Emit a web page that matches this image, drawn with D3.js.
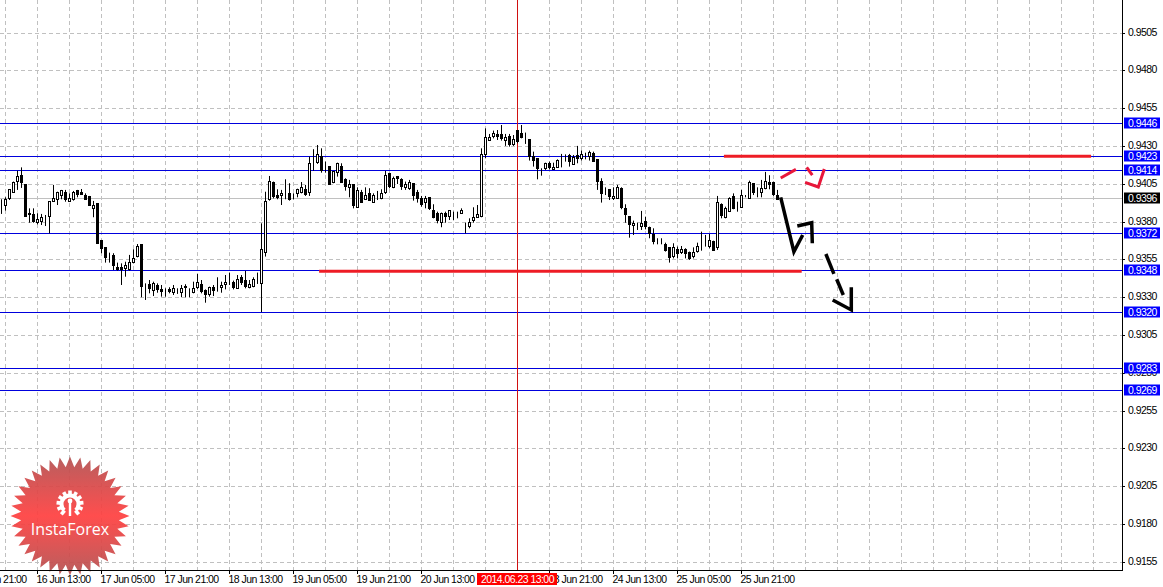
<!DOCTYPE html>
<html><head><meta charset="utf-8">
<script src="https://cdnjs.cloudflare.com/ajax/libs/d3/7.8.5/d3.min.js"></script>
<style>html,body{margin:0;padding:0;background:#fff}svg{display:block}text{font-family:"Liberation Sans",sans-serif;letter-spacing:-0.55px}</style>
</head><body><svg id="c" width="1163" height="587"></svg>
<script>
// OHLC values in pips (price x 10000), bar by bar (one bar per hour)
const opens=[9389.6,9390.9,9395.3,9399.7,9407,9411,9405,9385.8,9385.2,9379.6,9380.5,9381.8,9383.2,9393.5,9394.9,9397.5,9399.7,9393.5,9395.1,9401,9399.9,9397.7,9397.1,9389.6,9392,9367.5,9363.5,9356.3,9357.6,9350.1,9350.3,9349.7,9349,9353.4,9357.2,9365.5,9337.1,9338.4,9334.7,9338.2,9335.1,9334.7,9335.1,9333.8,9335.1,9333.8,9337.1,9335.1,9333.8,9336.6,9338.9,9334.9,9332.2,9336.9,9336,9336.6,9338.9,9339.1,9340,9336.2,9343.5,9341.7,9336.6,9337.7,9341.5,9338.9,9359.8,9395.1,9406.3,9397.5,9397.5,9397.9,9399,
9397.5,9398.6,9399.5,9401.7,9399.5,9420,9418.9,9423.3,9416,9416.9,9406.1,9412.3,9417.1,9408.5,9402.8,9404.6,9389.8,9399.9,9395.1,9399,9393.3,9396.8,9395.5,9399.5,9412.3,9402.8,9410.3,9408.5,9402.8,9402.6,9405.2,9399.3,9395.3,9392.9,9396,9388,9385.4,9379.6,9385.4,9383.2,9385.6,9385.6,9385.6,9375.9,9377,9381,9383.4,9383.6,9424.6,9434.3,9436.5,9438.1,9438.1,9434.3,9436.8,9430.8,9440.3,9438.7,9434.3,9434.8,9423.1,9422.2,
9414.9,9414.9,9418.9,9414.9,9416.2,9422.2,9423.3,9424,9418.5,9424,9422.2,9423.7,9423.7,9425.3,9421.1,9406.8,9399.7,9401.3,9395.3,9395.5,9401.9,9389.1,9384,9377.7,9378.1,9377,9380.1,9376.1,9371.5,9366,9366.4,9365.5,9363.3,9357.6,9362,9359.8,9361.6,9360,9356.9,9360.5,9365.5,9365.3,9363.8,9367.3,9363.3,9391.8,9383.4,9387.1,9397.1,9391.1,9389.8,9397.1,9395.7,9405.2,9401,9399.5,9402.6,9406.3,9406.5,9397.7];
const highs=[9395.1,9396.4,9401.9,9406.8,9414,9416.2,9405,9389.1,9389.1,9385.8,9385.4,9384.7,9393.3,9404.6,9400.1,9401.3,9401.3,9399,9400.6,9401.3,9401.9,9399,9397.3,9394,9392,9368.2,9363.5,9359.8,9359.4,9353.2,9352.7,9353.8,9358.3,9362,9365.5,9365.5,9339.5,9341.7,9340.6,9339.5,9338.4,9336.2,9336.9,9338.4,9336.2,9338.4,9338.9,9336.2,9340.6,9345.7,9341.7,9335.5,9337.3,9338.4,9343.5,9340.6,9345,9346.6,9341.3,9345,9345,9347.7,9341.7,9343.5,9346.6,9379.2,9400.1,9410.5,9406.8,9401.7,9401.3,9408.3,9405.7,
9399,9402.1,9406.5,9404.6,9423.3,9428.2,9431,9428.8,9420,9417.1,9413.8,9419.3,9418.9,9409,9407.9,9404.8,9403,9401.3,9403,9402.4,9399,9400.6,9401.7,9413.8,9412.7,9410.1,9410.5,9409,9406.8,9407.9,9405.2,9401.3,9397.3,9397.3,9396.4,9391.8,9386.9,9386.3,9386.9,9388,9386.9,9386.9,9389.1,9379.6,9382.5,9389.8,9391.3,9428.8,9442,9438.3,9440.5,9440.9,9444.2,9438.3,9438.3,9437.6,9440.5,9444.2,9439.2,9434.8,9426.6,9422.2,
9415.6,9419.3,9420,9419.3,9421.5,9425.1,9424.8,9425.1,9424.4,9430.4,9427.3,9425.9,9427.3,9426.6,9421.1,9409,9403,9401.9,9403,9404.6,9403,9391.8,9384,9381,9379.6,9387.4,9383.6,9377,9375.9,9369.3,9369.3,9366.4,9363.3,9366,9363.8,9364.2,9362.7,9360.5,9363.3,9366.4,9373.7,9371.5,9372.1,9367.7,9397.3,9392.4,9390.2,9396.4,9399,9393.5,9401.3,9397.9,9407.4,9405.7,9403,9407.9,9413.2,9411,9406.8,9401.3];
const lows=[9385.4,9387.6,9394.6,9399.5,9401.3,9402.6,9383.6,9379.6,9379.6,9378.5,9378.1,9377.4,9372.6,9393.3,9391.3,9395.1,9393.5,9393.5,9394.2,9396.4,9398.8,9395.1,9390.7,9383.2,9365.5,9359.4,9353.2,9353.2,9348.3,9347.9,9338.4,9343.9,9347.9,9352.7,9356.7,9330.3,9328.5,9332.9,9331.1,9333.3,9330.7,9330.7,9332.9,9331.8,9332.5,9330.3,9330.3,9330.3,9332.9,9335.8,9332.9,9326.7,9330.7,9331.1,9334,9333.3,9335.5,9338.4,9335.5,9335.8,9338.4,9336.2,9336.2,9336.9,9339.1,9320.5,9357.2,9394.2,9395.7,9395.1,9391.3,9395.1,9394.2,
9395.1,9396.4,9399,9397.3,9397.3,9414,9418.5,9412.7,9412.7,9404.8,9405.7,9410.1,9406.1,9400.8,9396.4,9389.1,9389.8,9392.9,9394.6,9394.2,9392.9,9394.6,9395.1,9398.6,9402.4,9402.4,9405.2,9401.3,9401.3,9401.3,9394.2,9392.9,9390.2,9389.1,9388,9382.5,9379.2,9376.6,9379.6,9381.4,9381.4,9382.5,9385.4,9372.6,9375.9,9379.6,9383.2,9383.2,9422.2,9433.9,9435.4,9434.3,9433.9,9430.4,9429.9,9430.4,9432.1,9435.4,9431.7,9420.7,9416.7,9408.3,
9410.7,9414.5,9414.9,9414.5,9416.2,9416.2,9420,9416.7,9417.8,9418.9,9420.7,9421.5,9420.7,9420,9401.3,9392.9,9397.9,9394.6,9394.6,9395.5,9388.5,9379.6,9369.7,9371.5,9374.8,9374.8,9375.2,9369.3,9365.3,9365.3,9365.3,9360.5,9353.2,9356,9356,9358.9,9356,9355,9356,9359.8,9361.1,9363.8,9362.7,9361.1,9361.6,9382.5,9382.5,9386.9,9388.5,9386.9,9389.6,9396.4,9395.3,9397.9,9396.4,9396.4,9401.7,9401.7,9397.3,9394.6];
const closes=[9389.6,9395.1,9401.3,9406.3,9410.3,9406.1,9383.6,9384.9,9380.7,9381.8,9383,9381.8,9393.3,9395.5,9399.3,9401,9394.9,9395.7,9399.9,9398.6,9398.8,9395.3,9390.9,9391.3,9365.5,9362,9356.9,9356.3,9351.2,9348.6,9349.2,9351.4,9353.4,9356,9364,9338,9337.1,9335.8,9339.3,9335.3,9333.8,9334.7,9334,9336.4,9335.1,9336.2,9336.2,9335.1,9336.2,9340.2,9334,9332.5,9336.6,9334.9,9336,9338.2,9340.2,9339.1,9336.6,9342.2,9340,9338,9338.9,9342.2,9341.5,9361.6,9393.8,9406.8,9396.8,9396.4,9399,9397.9,9395.1,
9397.5,9401.3,9403,9398.6,9418.9,9420,9424.4,9414,9416,9404.8,9413.2,9418.5,9406.8,9404.1,9405,9390.4,9401,9393.3,9397.7,9394.6,9397.7,9396.8,9399,9411,9403.5,9409,9408.7,9403.9,9404.6,9406.3,9397.3,9395.5,9391.5,9395.3,9388.7,9383.4,9380.7,9385.8,9383.4,9387.4,9385.6,9385.6,9387.8,9375.9,9379.9,9383.2,9385.2,9424.4,9436.1,9436.1,9438.7,9436.5,9435.6,9436.1,9431.7,9434.3,9432.8,9435.9,9434.3,9423.7,9420.7,9415.8,
9414.9,9418.5,9416.2,9416.2,9420.7,9422.2,9423.3,9420,9422.9,9421.8,9424.8,9423.7,9426.2,9420,9406.8,9399,9399.7,9396.8,9396.8,9403,9389.3,9384.9,9379,9379.2,9378.1,9379.2,9376.8,9372.1,9366.9,9366,9366.4,9361.6,9356.9,9363.3,9359.1,9362,9359.1,9355.8,9359.8,9364,9365.5,9365.3,9368,9361.6,9393.1,9384.7,9389.1,9395.7,9389.1,9391.1,9397.7,9397.1,9406.5,9399.3,9401,9401.9,9407,9404.8,9398.8,9395.3];

const priceTicks=[9505,9480,9455,9430,9405,9380,9355,9330,9305,9280,9255,9230,9205,9180,9155];
const levelValues=[9445.4,9423.5,9414.3,9372.6,9348.3,9319.9,9283.2,9268.6];
const levelLabels=["0.9446","0.9423","0.9414","0.9372","0.9348","0.9320","0.9283","0.9269"];
const bidValue=9395.7, bidLabel="0.9396";
const timeBars=[-7,9,25,41,57,73,89,105,137,153,169,185];
const timeLabels=["15 Jun 21:00","16 Jun 13:00","17 Jun 05:00","17 Jun 21:00","18 Jun 13:00","19 Jun 05:00","19 Jun 21:00","20 Jun 13:00","23 Jun 21:00","24 Jun 13:00","25 Jun 05:00","25 Jun 21:00"];
const cursorBar=129, cursorLabel="2014.06.23 13:00";
const redLevels=[[180.6,272.4,9423.5],[79.4,200.05,9347.5]];
const blackPaths=[[[194.8,9396.4],[198.1,9360.4],[200.3,9371.5]],[[198.95,9377.4],[202.55,9379.6],[202.7,9366]],[[206.1,9358.9],[208.1,9345.7]],[[208.8,9342.2],[210.45,9331.8]],[[207.8,9328.5],[212.45,9321.9],[212.45,9336.9]]];
const redPaths=[[[194.8,9409.2],[198.6,9414.9]],[[201.3,9416.2],[202.7,9411]],[[200.9,9406.3],[204.2,9403.2],[205.7,9415.1]]];
const brandName="InstaForex";

const W=1163,H=587,plotR=1122,plotB=570;
const svg=d3.select("#c");
const x=d3.scaleLinear().domain([0,1]).range([1.5,5.5]);
const y=d3.scaleLinear().domain([9405,9380]).range([184.3,222.1]);
const crisp=v=>Math.round(v-0.5)+0.5;
const defs=svg.append("defs");
defs.append("clipPath").attr("id","plot").append("rect").attr("width",plotR).attr("height",plotB);
const plot=svg.append("g").attr("clip-path","url(#plot)");

// grid
const gridBars=d3.range(1,280,8);
plot.append("g").selectAll("line").data(gridBars).join("line")
 .attr("x1",d=>crisp(x(d))).attr("x2",d=>crisp(x(d))).attr("y1",0).attr("y2",plotB)
 .attr("stroke","#c0c0c0").attr("stroke-dasharray","4 3");
plot.append("g").selectAll("line").data(priceTicks).join("line")
 .attr("y1",d=>crisp(y(d))).attr("y2",d=>crisp(y(d))).attr("x1",0).attr("x2",plotR)
 .attr("stroke","#c0c0c0").attr("stroke-dasharray","4 3");

// bid line
plot.append("line").attr("x1",0).attr("x2",plotR).attr("y1",crisp(y(bidValue))).attr("y2",crisp(y(bidValue))).attr("stroke","#c0c0c0");

// levels
plot.append("g").selectAll("line").data(levelValues).join("line")
 .attr("x1",0).attr("x2",plotR).attr("y1",d=>crisp(y(d))).attr("y2",d=>crisp(y(d)))
 .attr("stroke","#0000dd");

// cursor line
plot.append("line").attr("x1",crisp(x(cursorBar))).attr("x2",crisp(x(cursorBar))).attr("y1",0).attr("y2",plotB)
 .attr("stroke","#d01010").attr("stroke-width",1);

// candles
const bars=plot.append("g").selectAll("g").data(d3.range(opens.length)).join("g");
bars.append("line").attr("x1",i=>crisp(x(i))).attr("x2",i=>crisp(x(i))).attr("y1",i=>y(highs[i])).attr("y2",i=>y(lows[i])).attr("stroke","#000");
bars.append("rect").attr("x",i=>crisp(x(i))-1).attr("width",2)
 .attr("y",i=>crisp(y(Math.max(opens[i],closes[i]))))
 .attr("height",i=>Math.max(0,Math.round(Math.abs(y(opens[i])-y(closes[i])))))
 .attr("fill",i=>closes[i]>opens[i]?"#fff":"#000").attr("stroke","#000");

// drawn objects
const ln=d3.line().x(d=>x(d[0])).y(d=>y(d[1]));
plot.append("g").selectAll("line").data(redLevels).join("line")
 .attr("x1",d=>x(d[0])).attr("x2",d=>x(d[1])).attr("y1",d=>y(d[2])).attr("y2",d=>y(d[2]))
 .attr("stroke","#ee1c25").attr("stroke-width",3);
plot.append("g").selectAll("path").data(redPaths).join("path").attr("d",ln).attr("fill","none")
 .attr("stroke","#e8173a").attr("stroke-width",3);
plot.append("g").selectAll("path").data(blackPaths).join("path").attr("d",ln).attr("fill","none")
 .attr("stroke","#000").attr("stroke-width",3.5);

// watermark over plot
const wx=70,wy=516,wR=59.5,wr=49,spikes=36;
const grad=defs.append("linearGradient").attr("id","wm").attr("x1",0).attr("x2",0).attr("y1",0).attr("y2",1);
grad.append("stop").attr("offset","0").attr("stop-color","#b35252");
grad.append("stop").attr("offset","0.5").attr("stop-color","#ff4040");
grad.append("stop").attr("offset","1").attr("stop-color","#b35252");
const star=d3.range(spikes*2).map(i=>{const r=i%2?wr:wR,a=i*Math.PI/spikes-Math.PI/2;return [wx+r*Math.cos(a),wy+r*Math.sin(a)];});
const wm=svg.append("g");
wm.append("polygon").attr("points",star.map(p=>p.join(",")).join(" ")).attr("fill","url(#wm)").attr("fill-opacity",0.93);
wm.append("text").attr("x",wx).attr("y",535).attr("text-anchor","middle").attr("fill","#fff")
 .style("font-family","'Open Sans',sans-serif").style("letter-spacing","0").attr("font-size",16).text(brandName);
const gear=wm.append("g").attr("transform",`translate(${wx},504)`);
gear.append("g").selectAll("rect").data(d3.range(11)).join("rect")
 .attr("x",-1.8).attr("y",-13.5).attr("width",3.6).attr("height",5).attr("fill","#fff").attr("transform",d=>`rotate(${-140+d*28})`);
gear.append("path").attr("d",d3.arc()({innerRadius:6.5,outerRadius:10.5,startAngle:-2.4,endAngle:2.4})).attr("fill","#fff");
gear.append("circle").attr("cx",0).attr("cy",-3).attr("r",2.4).attr("fill","#fff");
gear.append("rect").attr("x",-1.2).attr("y",-3).attr("width",2.4).attr("height",15).attr("fill","#fff");

// axes frame
svg.append("line").attr("x1",plotR+.5).attr("x2",plotR+.5).attr("y1",0).attr("y2",plotB).attr("stroke","#000");
svg.append("line").attr("x1",0).attr("x2",plotR+1).attr("y1",plotB+.5).attr("y2",plotB+.5).attr("stroke","#000");

// price axis
const ya=svg.append("g").attr("transform",`translate(${plotR},0)`);
ya.selectAll("g.t").data(priceTicks).join("g").attr("class","t").attr("transform",d=>`translate(0,${crisp(y(d))})`).call(g=>{
 g.append("line").attr("x2",3).attr("stroke","#000");
 g.append("text").attr("x",6).attr("y",2.5).attr("font-size",10.5).attr("fill","#000").text(d=>(d/10000).toFixed(4));
});
const tag=(val,txt,bg)=>{const g=ya.append("g").attr("transform",`translate(0,${crisp(y(val))})`);
 g.append("rect").attr("x",2).attr("y",-6).attr("width",36).attr("height",11).attr("fill",bg);
 g.append("text").attr("x",6).attr("y",3).attr("font-size",10.5).attr("fill","#fff").text(txt);};
levelValues.forEach((v,i)=>tag(v,levelLabels[i],"#0000ff"));
tag(bidValue,bidLabel,"#000");

// time axis
const xa=svg.append("g").attr("transform",`translate(0,${plotB})`);
const tg=xa.selectAll("g").data(timeBars).join("g").attr("transform",d=>`translate(${crisp(x(d))},0)`);
tg.append("line").attr("y2",4).attr("stroke","#000");
tg.append("text").attr("x",-1).attr("y",13).attr("font-size",10.5).attr("fill","#000").text((d,i)=>timeLabels[i]);
xa.append("rect").attr("x",477).attr("y",3).attr("width",80).attr("height",12).attr("fill","#ff0000");
xa.append("text").attr("x",481).attr("y",13).attr("font-size",10.5).attr("fill","#fff").text(cursorLabel);
</script></body></html>
